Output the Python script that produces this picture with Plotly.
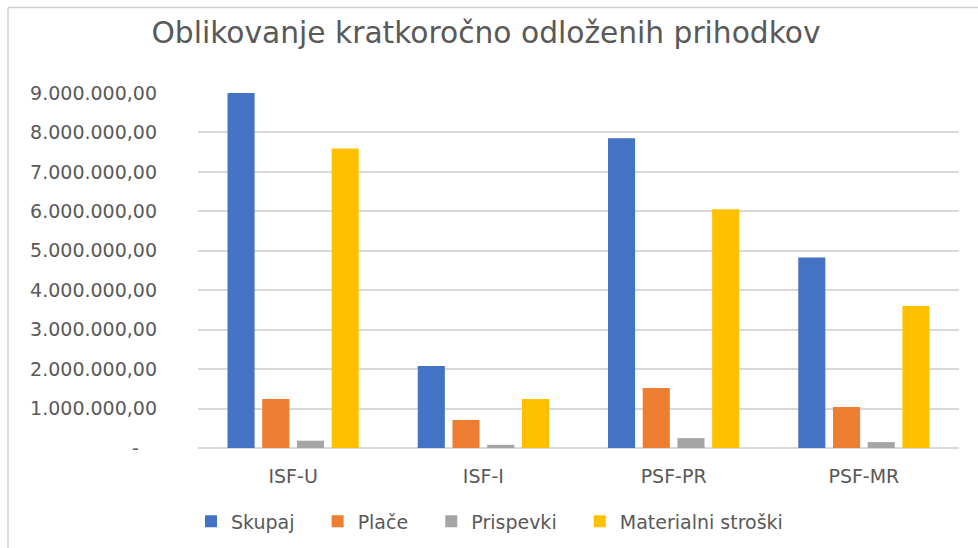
import plotly.graph_objects as go

categories = ["ISF-U", "ISF-I", "PSF-PR", "PSF-MR"]
skupaj = [9000000, 2080000, 7850000, 4830000]
place = [1240000, 710000, 1520000, 1040000]
prispevki = [185000, 80000, 250000, 150000]
materialni = [7590000, 1240000, 6050000, 3600000]

series_names = ["Skupaj", "Plače", "Prispevki", "Materialni stroški"]
series_values = [skupaj, place, prispevki, materialni]
colors = ["#4472C4", "#ED7D31", "#A5A5A5", "#FFC000"]

tick_vals = [0, 1000000, 2000000, 3000000, 4000000, 5000000, 6000000, 7000000, 8000000, 9000000]
tick_text = ["-\u00a0\u00a0\u00a0", "1.000.000,00", "2.000.000,00", "3.000.000,00", "4.000.000,00",
             "5.000.000,00", "6.000.000,00", "7.000.000,00", "8.000.000,00", "9.000.000,00"]

FONT = "DejaVu Sans"
TXT = "#595959"
PAD = "\u00a0\u00a0\u00a0"

fig = go.Figure()
for name, vals, col in zip(series_names, series_values, colors):
    fig.add_trace(go.Bar(x=categories, y=vals, name=name + PAD,
                         marker=dict(color=col, line=dict(width=0))))

fig.update_layout(
    width=978, height=548,
    margin=dict(l=198, r=19, t=93, b=100, autoexpand=False),
    paper_bgcolor="white", plot_bgcolor="white",
    barmode="group", bargap=0.27, bargroupgap=0.22,
    font=dict(family=FONT, size=19, color=TXT),
    title=dict(text="Oblikovanje kratkoročno odloženih prihodkov",
               font=dict(family=FONT, size=29.7, color=TXT),
               x=486 / 978, xanchor="center", y=1 - 33 / 548, yanchor="middle"),
    legend=dict(orientation="h", xref="container", yref="container",
                x=191 / 978, xanchor="left", y=1 - 521.5 / 548, yanchor="middle",
                font=dict(family=FONT, size=19, color=TXT), bgcolor="rgba(0,0,0,0)"),
    showlegend=True,
)
fig.update_yaxes(range=[0, 9000000], tickvals=tick_vals, ticktext=tick_text,
                 showgrid=True, gridcolor="#d9d9d9", gridwidth=1.6,
                 zeroline=True, zerolinecolor="#d9d9d9", zerolinewidth=1.6,
                 showline=False, ticks="", ticklabelstandoff=40, automargin=False,
                 tickfont=dict(family=FONT, size=19, color=TXT))
fig.update_xaxes(showgrid=False, showline=False, ticks="", ticklabelstandoff=15, automargin=False,
                 tickfont=dict(family=FONT, size=19, color=TXT))

# outer chart border (left and top edges visible in the reference crop)
top_y = (448.3 - 7) / 355.6
left_x = (8 - 198) / 761
fig.add_shape(type="line", xref="paper", yref="paper",
              x0=left_x, x1=(980 - 198) / 761, y0=top_y, y1=top_y,
              line=dict(color="#d0d0d0", width=1.5))
fig.add_shape(type="line", xref="paper", yref="paper",
              x0=left_x, x1=left_x, y0=top_y, y1=(448.3 - 560) / 355.6,
              line=dict(color="#d0d0d0", width=1.5))

fig.write_html("out.html", config={"displayModeBar": False},
               post_script="document.body.style.margin='0';document.body.style.overflow='hidden';")
